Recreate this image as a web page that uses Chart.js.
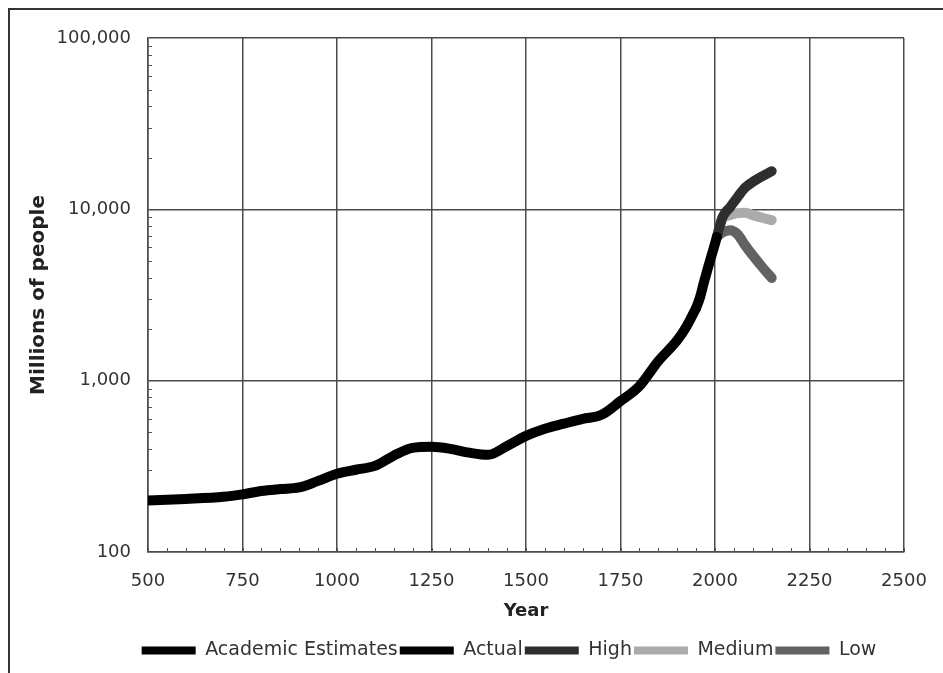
<!DOCTYPE html>
<html>
<head>
<meta charset="utf-8">
<title>World population</title>
<script src="https://cdn.jsdelivr.net/npm/chart.js@4.4.1/dist/chart.umd.min.js"></script>
<style>
  html, body { margin: 0; padding: 0; background: #fff; }
  #wrap { position: relative; width: 943px; height: 673px; overflow: hidden; }
  #frame { position: absolute; left: 8px; top: 8px; right: -4px; bottom: -4px; border-top: 2px solid #333; border-left: 2px solid #333; pointer-events: none; }
  canvas { position: absolute; left: 0; top: 0; }
</style>
</head>
<body>
<div id="wrap">
  <canvas id="popChart" width="943" height="673"></canvas>
  <div id="frame"></div>
</div>
<script>
// values, millions of people
const academicYears = [500, 600, 700, 750, 800, 850, 900, 950, 1000, 1050, 1100, 1150, 1200, 1250, 1300, 1350, 1400, 1450, 1500, 1550, 1600, 1650, 1700, 1750, 1800, 1850, 1900, 1925, 1950]
const academicValues = [200, 204, 210, 217, 227, 233, 238, 260, 286, 302, 318, 365, 405, 411, 400, 380, 369, 416, 476, 524, 561, 599, 632, 760, 930, 1300, 1720, 2080, 2650]

const actualYears = [1950, 1960, 1970, 1980, 1990, 2000, 2005]
const actualValues = [2650, 3050, 3700, 4450, 5300, 6300, 6900]

const projYears = [2005, 2020, 2040, 2060, 2080, 2100, 2125, 2150]
const highValues = [6900, 9000, 10300, 11800, 13400, 14450, 15600, 16700]
const mediumValues = [6900, 8850, 9250, 9500, 9550, 9250, 8930, 8650]
const lowValues = [6900, 7330, 7540, 7140, 6150, 5380, 4600, 3980]

const yTicks = [100, 1000, 10000, 100000]

const toPoints = (xs, ys) => xs.map((x, i) => ({ x: x, y: ys[i] }))

const font = 'DejaVu Sans, Verdana, sans-serif'
const textColor = '#333'
const gridColor = '#4a4a4a'

const makeLine = (label, xs, ys, color) => ({
  label: label,
  data: toPoints(xs, ys),
  borderColor: color,
  backgroundColor: color,
  borderWidth: 10,
  borderCapStyle: 'round',
  borderJoinStyle: 'round',
  pointRadius: 0,
  pointHoverRadius: 0,
  cubicInterpolationMode: 'monotone',
  fill: false
})

// small inward ticks on the axes (every 50 years, log minors)
const minorTicks = {
  id: 'minorTicks',
  beforeDatasetsDraw(chart) {
    const { ctx, chartArea, scales } = chart
    const x = scales.x
    const y = scales.y
    ctx.save()
    ctx.strokeStyle = '#555'
    ctx.lineWidth = 1
    ctx.beginPath()
    for (let yr = x.min; yr <= x.max; yr += 50) {
      const px = Math.round(x.getPixelForValue(yr)) + 0.5
      ctx.moveTo(px, chartArea.bottom)
      ctx.lineTo(px, chartArea.bottom - 4)
    }
    for (let d = 100; d < 100000; d *= 10) {
      for (let m = 2; m < 10; m++) {
        const py = Math.round(y.getPixelForValue(d * m)) + 0.5
        ctx.moveTo(chartArea.left, py)
        ctx.lineTo(chartArea.left + 4, py)
      }
    }
    ctx.stroke()
    ctx.restore()
  }
}

// legend in the picture is centred a little right of the canvas centre
const legendShift = {
  id: 'legendShift',
  afterLayout(chart) {
    chart.legend.left += 57
    chart.legend.right += 57
  }
}

new Chart(document.getElementById('popChart'), {
  type: 'line',
  data: {
    datasets: [
      makeLine('Academic Estimates', academicYears, academicValues, '#000'),
      makeLine('Actual', actualYears, actualValues, '#000'),
      makeLine('High', projYears, highValues, '#2e2e2e'),
      makeLine('Medium', projYears, mediumValues, '#ababab'),
      makeLine('Low', projYears, lowValues, '#626262')
    ]
  },
  options: {
    responsive: false,
    animation: false,
    layout: { padding: { top: 38, right: 39, left: 0, bottom: 3 } },
    scales: {
      x: {
        type: 'linear',
        min: 500,
        max: 2500,
        afterFit: (scale) => {
          scale.height = 87
          scale.paddingLeft = 0
          scale.paddingRight = 0
        },
        ticks: {
          stepSize: 250,
          padding: 19,
          color: textColor,
          font: { family: font, size: 18 },
          callback: (v) => String(v)
        },
        grid: { color: gridColor, lineWidth: 1.5, drawTicks: false },
        border: { color: gridColor, width: 1.5 },
        title: {
          display: true,
          text: 'Year',
          color: '#222',
          font: { family: font, size: 18, weight: 'bold' },
          padding: { top: 0, bottom: 17 }
        }
      },
      y: {
        type: 'logarithmic',
        min: 100,
        max: 100000,
        afterFit: (scale) => { scale.width = 148 },
        afterBuildTicks: (scale) => { scale.ticks = yTicks.map((v) => ({ value: v })) },
        ticks: {
          padding: 17,
          color: textColor,
          font: { family: font, size: 18 },
          callback: (v) => Number(v).toLocaleString('en-US')
        },
        grid: { color: gridColor, lineWidth: 1.5, drawTicks: false },
        border: { color: gridColor, width: 1.5 },
        title: {
          display: true,
          text: 'Millions of people',
          color: '#222',
          font: { family: font, size: 20, weight: 'bold' },
          padding: { top: 27, bottom: 0 }
        }
      }
    },
    plugins: {
      legend: {
        position: 'bottom',
        labels: {
          boxWidth: 54,
          boxHeight: 8,
          padding: 2,
          color: textColor,
          font: { family: font, size: 19 },
          generateLabels: (chart) =>
            Chart.defaults.plugins.legend.labels.generateLabels(chart).map((l) => ({ ...l, lineWidth: 0 }))
        }
      },
      tooltip: { enabled: false }
    }
  },
  plugins: [minorTicks, legendShift]
})
</script>
</body>
</html>
